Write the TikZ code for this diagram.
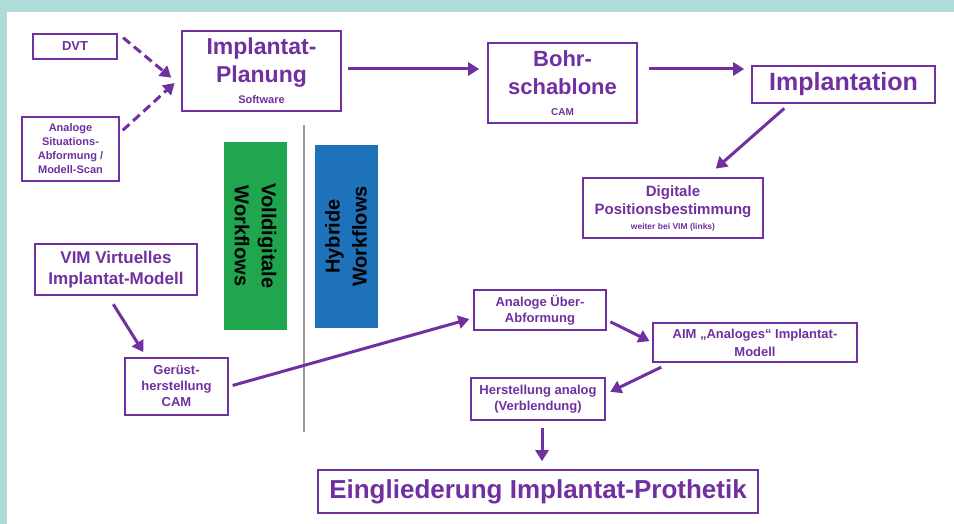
\documentclass[tikz,border=0pt]{standalone}
\usepackage{fontspec}
\setmainfont{Liberation Sans}
\usetikzlibrary{arrows.meta,positioning}
\definecolor{lila}{HTML}{7030A0}
\definecolor{tuerkis}{HTML}{AEDCD7}
\definecolor{gruen}{HTML}{20A64F}
\definecolor{blau}{HTML}{1E72B9}
\newcommand{\fs}[2]{\fontsize{#1}{#2}\selectfont}

\begin{document}
\begin{tikzpicture}[x=1pt,y=-1pt,
    kasten/.style={rectangle,draw=lila,line width=1.6pt,text=lila,
        align=center,inner sep=0pt},
    pfeil/.style={draw=lila,line width=3pt,-{Triangle[length=11pt,width=13pt]}},
    strich/.style={pfeil,dash pattern=on 9pt off 5pt},
    balken/.style={rectangle,inner sep=0pt,font=\bfseries\fs{20}{27},
        align=center,minimum height=63pt}
]
 \useasboundingbox (0,0) rectangle (954,524);
 \fill[tuerkis] (0,0) rectangle (954,524);
 \fill[white] (7,12) rectangle (954,524);

 \node[kasten,minimum width=84pt,minimum height=25pt,font=\bfseries\fs{13}{15}]
    (dvt) at (75,46.5) {DVT};
 \node[kasten,minimum width=159pt,minimum height=80pt,font=\bfseries\fs{23}{28}]
    (planung) at (261.5,71) {Implantat-\\Planung\\[-7pt]\fs{11}{13}Software};
 \node[kasten,minimum width=97pt,minimum height=64pt,font=\bfseries\fs{11}{14}]
    (abformung) at (70.5,149) {Analoge\\Situations-\\Abformung /\\Modell-Scan};
 \node[kasten,minimum width=149pt,minimum height=80pt,font=\bfseries\fs{22}{28}]
    (schablone) at (562.5,83) {Bohr-\\schablone\\[-7pt]\fs{10}{12}CAM};
 \node[kasten,minimum width=183pt,minimum height=37pt,font=\bfseries\fs{25}{28}]
    (implantation) at (843.5,84.5) {Implantation};
 \node[kasten,minimum width=180pt,minimum height=60pt,font=\bfseries\fs{15}{18}]
    (position) at (673,208) {Digitale\\Positionsbestimmung\\[-3pt]\fs{8.5}{10}weiter bei VIM (links)};
 \node[kasten,minimum width=162pt,minimum height=51pt,font=\bfseries\fs{17}{21}]
    (vim) at (116,269.5) {VIM Virtuelles\\Implantat-Modell};
 \node[kasten,minimum width=103pt,minimum height=57pt,font=\bfseries\fs{13}{16}]
    (geruest) at (176.5,386.5) {Gerüst-\\herstellung\\CAM};
 \node[kasten,minimum width=132pt,minimum height=40pt,font=\bfseries\fs{13}{16}]
    (ueber) at (540,310) {Analoge Über-\\Abformung};
 \node[kasten,minimum width=204pt,minimum height=39pt,font=\bfseries\fs{13}{18}]
    (aim) at (755,342.5) {AIM „Analoges“ Implantat-\\Modell};
 \node[kasten,minimum width=134pt,minimum height=42pt,font=\bfseries\fs{13}{16}]
    (herstellung) at (538,399) {Herstellung analog\\(Verblendung)};
 \node[kasten,minimum width=440pt,minimum height=43pt,font=\bfseries\fs{26}{30}]
    (eingliederung) at (538,491.5) {Eingliederung Implantat-Prothetik};

 \node[balken,fill=gruen,rotate=-90,minimum width=188pt] (volldigital) at (255.5,236)
    {Volldigitale\\Workflows};
 \node[balken,fill=blau,rotate=90,minimum width=183pt] (hybrid) at (346,236.5)
    {Hybride\\Workflows};
 \draw[black!40,line width=2.5pt] (304,125) -- (304,432);

 \draw[strich,shorten <=7pt,shorten >=13pt] (dvt.north east) -- ([yshift=-15pt]planung.west);
 \draw[strich,shorten <=4pt,shorten >=9pt] ([yshift=16pt]abformung.east) -- ([yshift=-6pt]planung.west);
 \draw[pfeil,shorten <=6pt,shorten >=8pt] ([yshift=2pt]planung.east) -- ([yshift=14pt]schablone.west);
 \draw[pfeil,shorten <=11pt,shorten >=7pt] ([yshift=14pt]schablone.east) -- ([yshift=15.5pt]implantation.west);
 \draw[pfeil,shorten <=7pt,shorten >=13pt] ([xshift=-54pt]implantation.south) -- ([xshift=33pt]position.north);
 \draw[pfeil,shorten <=10pt,shorten >=6pt] ([xshift=-8pt]vim.south) -- ([xshift=-30pt]geruest.north);
 \draw[pfeil,shorten <=4pt,shorten >=4pt] (geruest.east) -- ([yshift=-8pt]ueber.west);
 \draw[pfeil,shorten <=4pt,shorten >=3pt] ([yshift=-10pt]ueber.east) -- (aim.west);
 \draw[pfeil,shorten <=10pt,shorten >=5pt] ([xshift=18pt]aim.south west) -- ([yshift=5pt]herstellung.east);
 \draw[pfeil,shorten <=7pt,shorten >=8pt] ([xshift=4pt]herstellung.south) -- ([xshift=4pt]eingliederung.north);
\end{tikzpicture}
\end{document}
